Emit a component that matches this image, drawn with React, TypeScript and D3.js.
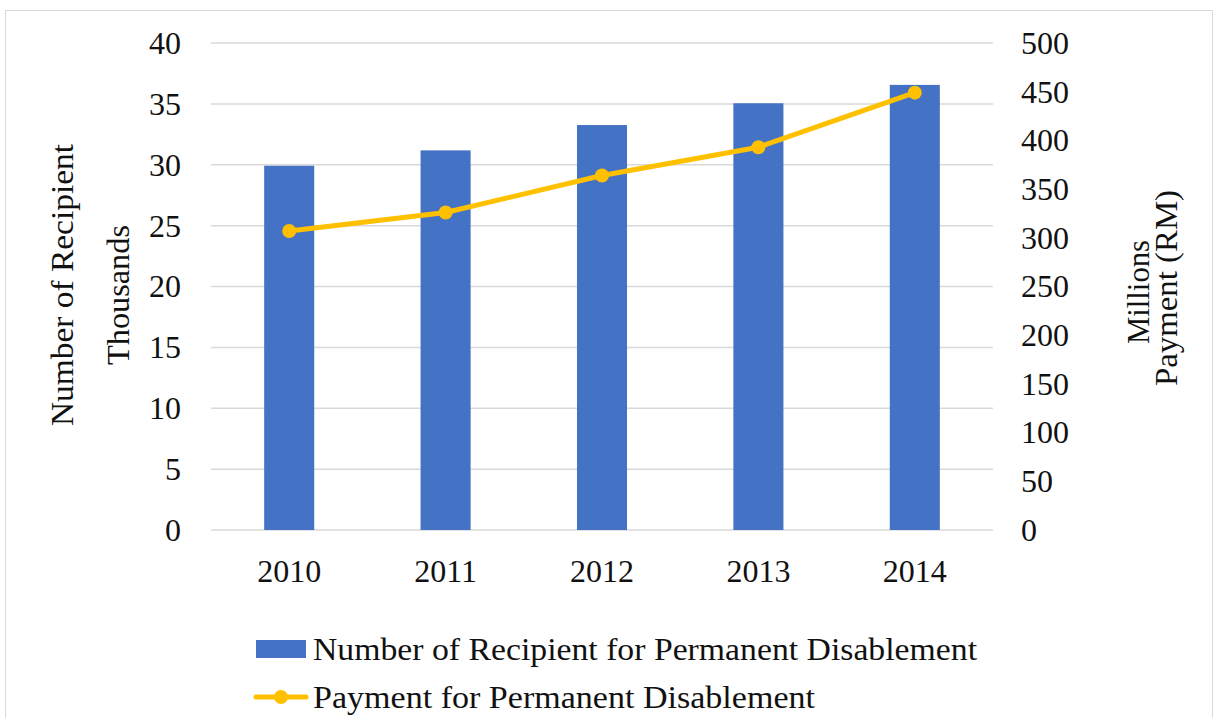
import React from "react";
import * as d3 from "d3";

const years = ["2010", "2011", "2012", "2013", "2014"];
const recipients = [29.92, 31.18, 33.26, 35.05, 36.56];
const payments = [307, 326, 364, 393, 449];
const leftTicks = [0, 5, 10, 15, 20, 25, 30, 35, 40];
const rightTicks = [0, 50, 100, 150, 200, 250, 300, 350, 400, 450, 500];

const W = 1215;
const H = 718;
const plot = { left: 211, right: 993, top: 43, bottom: 530 };

export default function App() {
  const x = d3.scaleBand<string>().domain(years).range([plot.left, plot.right]).paddingInner(0.68).paddingOuter(0.34);
  const yL = d3.scaleLinear().domain([0, 40]).range([plot.bottom, plot.top]);
  const yR = d3.scaleLinear().domain([0, 500]).range([plot.bottom, plot.top]);
  const cx = (d: string) => (x(d) as number) + x.bandwidth() / 2;
  const line = d3
    .line<number>()
    .x((_, i) => cx(years[i]))
    .y((d) => yR(d));
  const tickFont = "'Liberation Serif', serif";
  const textFont = "'Liberation Serif', serif";
  return (
    <svg width={W} height={H} style={{ position: "absolute", left: 0, top: 0, background: "#fff" }}>
      <rect x={5.5} y={10.5} width={1207} height={720} fill="#fff" stroke="#d9d9d9" strokeWidth={1} />
      {leftTicks.map((t) => (
        <line key={t} x1={plot.left} x2={plot.right} y1={yL(t)} y2={yL(t)} stroke="#d9d9d9" strokeWidth={1.5} />
      ))}
      {years.map((y, i) => (
        <rect key={y} x={x(y)} y={yL(recipients[i])} width={x.bandwidth()} height={plot.bottom - yL(recipients[i])} fill="#4472C4" />
      ))}
      <path d={line(payments) || ""} fill="none" stroke="#FFC000" strokeWidth={5} strokeLinejoin="round" />
      {payments.map((p, i) => (
        <circle key={i} cx={cx(years[i])} cy={yR(p)} r={7} fill="#FFC000" />
      ))}
      {leftTicks.map((t) => (
        <text key={t} x={181} y={yL(t)} dy="0.34em" textAnchor="end" fontFamily={tickFont} fontSize={32} fill="#111">
          {t}
        </text>
      ))}
      {rightTicks.map((t) => (
        <text key={t} x={1021} y={yR(t)} dy="0.34em" textAnchor="start" fontFamily={tickFont} fontSize={32} fill="#111">
          {t}
        </text>
      ))}
      {years.map((y) => (
        <text key={y} x={cx(y)} y={582} textAnchor="middle" fontFamily={tickFont} fontSize={32} fill="#111">
          {y}
        </text>
      ))}
      <text transform={`translate(73,285) rotate(-90)`} textAnchor="middle" fontFamily={textFont} fontSize={32} fill="#111" textLength={282} lengthAdjust="spacingAndGlyphs">
        Number of Recipient
      </text>
      <text transform={`translate(129,295) rotate(-90)`} textAnchor="middle" fontFamily={textFont} fontSize={32} fill="#111" textLength={140} lengthAdjust="spacingAndGlyphs">
        Thousands
      </text>
      <text transform={`translate(1149,292) rotate(-90)`} textAnchor="middle" fontFamily={textFont} fontSize={32} fill="#111" textLength={104} lengthAdjust="spacingAndGlyphs">
        Millions
      </text>
      <text transform={`translate(1177,288) rotate(-90)`} textAnchor="middle" fontFamily={textFont} fontSize={32} fill="#111" textLength={196} lengthAdjust="spacingAndGlyphs">
        Payment (RM)
      </text>
      <rect x={256} y={640} width={50} height={18} fill="#4472C4" />
      <text x={313} y={660} fontFamily={textFont} fontSize={32} fill="#111" textLength={664} lengthAdjust="spacingAndGlyphs">
        Number of Recipient for Permanent Disablement
      </text>
      <line x1={256} x2={306} y1={697} y2={697} stroke="#FFC000" strokeWidth={5} strokeLinecap="round" />
      <circle cx={281} cy={697} r={7} fill="#FFC000" />
      <text x={313} y={708} fontFamily={textFont} fontSize={32} fill="#111" textLength={502} lengthAdjust="spacingAndGlyphs">
        Payment for Permanent Disablement
      </text>
    </svg>
  );
}
